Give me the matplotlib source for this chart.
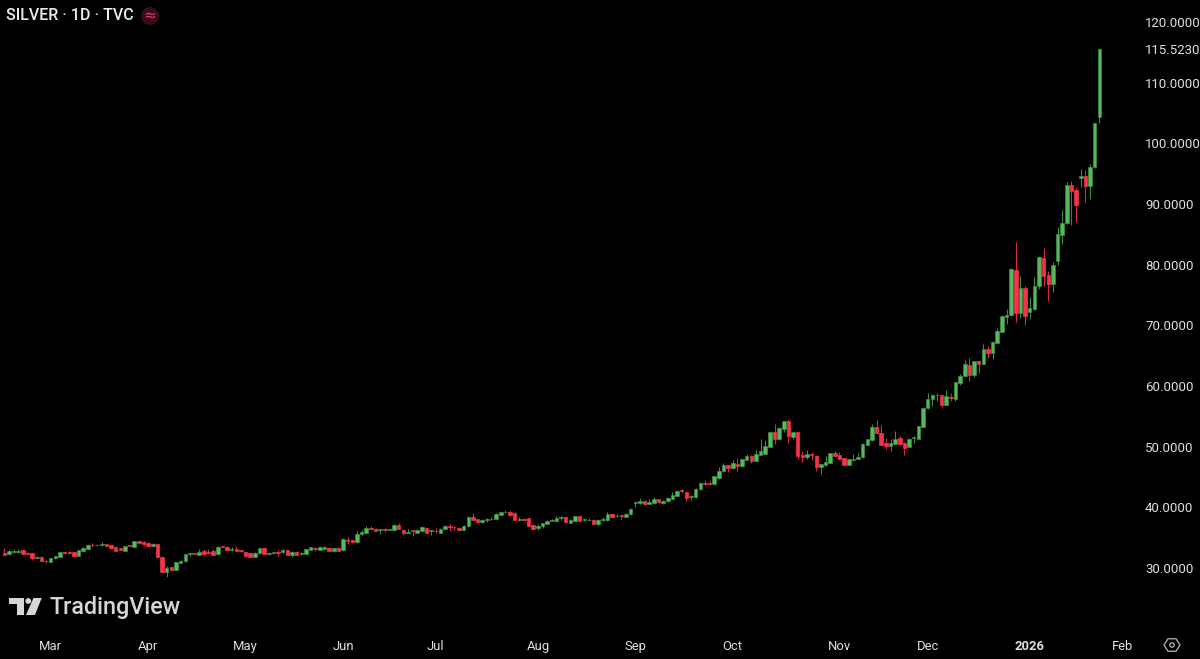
import matplotlib
matplotlib.use("Agg")
from matplotlib import pyplot as plt
from matplotlib.patches import Circle, Polygon, Rectangle
import numpy as np

# daily candles
opens = [32.42,32.26,32.64,32.64,32.92,32.53,32.42,31.7,31.82,31.21,
         31.05,31.6,31.87,32.64,32.64,32.59,31.98,32.86,33.14,33.85,
         33.85,33.8,33.9,33.8,33.41,33.25,32.86,33.74,33.47,34.4,
         34.24,34.13,33.58,33.96,31.87,29.4,30.11,29.67,30.88,31.1,
         32.31,32.42,32.2,32.8,32.7,32.75,32.26,33.63,33.52,32.97,
         33.14,32.97,32.59,32.42,31.87,32.53,33.25,32.37,32.48,32.7,
         32.64,32.97,32.15,32.7,32.31,32.31,32.97,33.36,32.97,33.08,
         33.3,32.86,33.36,32.92,34.62,34.62,34.24,35.56,35.83,36.66,
         36.49,36.22,36.38,36.27,36.22,37.1,36.33,35.83,36.22,35.78,
         36.11,36.55,36.11,36.16,35.83,36.44,36.93,36.82,36.66,36.33,
         36.88,38.36,38.09,37.54,37.92,38.03,38.14,38.8,39.19,39.24,
         39.08,37.92,38.14,38.25,37.1,36.55,36.93,37.26,37.81,37.7,
         38.3,38.36,37.43,37.81,38.53,37.87,37.87,37.98,37.26,37.92,
         37.92,38.86,38.53,38.75,38.42,38.86,40.78,40.67,41.11,40.56,
         40.78,41.39,40.67,41.0,41.44,41.94,42.82,42.54,41.66,41.66,
         42.98,44.03,44.03,43.81,44.9,45.95,46.94,46.5,47.1,46.78,
         47.82,48.54,47.66,48.65,48.82,49.97,52.39,51.23,53.0,54.2,
         51.67,52.39,48.7,48.37,48.82,48.54,46.67,46.94,47.33,48.98,
         48.65,48.1,47.0,47.82,47.99,48.26,50.35,51.07,53.27,52.22,
         50.57,50.19,50.46,51.45,50.68,49.97,51.51,51.23,53.27,56.4,
         57.83,58.5,58.49,56.95,58.27,57.94,60.53,61.68,63.5,61.79,
         64.1,63.66,66.14,65.37,67.13,68.94,71.42,71.69,79.17,72.08,
         76.2,72.24,72.68,76.53,81.15,78.35,76.86,80.66,84.95,86.87,
         93.2,92.37,94.3,94.68,92.92,96.11,104.36]
closes = [32.2,32.86,32.86,32.86,32.37,32.31,31.6,31.82,31.21,31.1,
          31.65,31.98,32.64,32.53,32.53,31.98,32.92,33.3,33.85,33.74,
          33.8,33.96,33.63,33.3,32.8,33.03,33.63,33.63,34.4,34.07,
          33.96,33.58,34.02,31.76,29.4,30.05,29.73,30.99,31.21,32.26,
          32.42,32.37,32.7,32.31,32.53,32.2,33.52,33.52,32.92,33.08,
          32.8,32.75,32.03,31.87,32.53,33.25,32.31,32.53,32.59,32.53,
          32.97,32.15,32.7,32.15,32.42,33.08,33.41,33.08,33.52,33.52,
          32.86,33.25,32.86,34.84,34.46,34.35,35.61,36.0,36.66,36.44,
          36.16,36.38,36.22,36.38,37.1,36.49,35.78,35.94,36.11,36.27,
          36.71,35.83,36.22,36.05,36.49,36.88,36.77,36.71,36.33,36.99,
          38.42,37.98,37.59,37.92,38.03,38.14,38.97,39.19,39.3,38.8,
          37.98,38.03,37.98,36.99,36.49,36.93,37.43,37.81,37.92,38.25,
          38.42,37.54,37.92,38.58,37.81,38.03,37.98,37.26,37.92,38.14,
          38.97,38.47,38.64,38.64,38.97,39.68,40.89,41.05,40.5,40.95,
          41.39,40.84,41.11,41.55,42.1,42.7,42.65,41.6,41.88,43.09,
          44.08,43.81,43.81,45.18,46.06,46.94,46.5,47.33,46.9,47.93,
          48.54,47.71,48.82,49.25,50.08,52.39,51.23,53.1,54.2,51.73,
          52.39,48.54,48.26,48.82,48.6,46.67,47.11,47.49,48.92,48.54,
          47.93,47.0,47.93,47.93,48.37,50.52,51.23,53.27,52.22,50.35,
          50.19,50.63,51.23,50.52,49.8,51.34,51.67,53.38,56.4,57.89,
          58.49,58.55,56.95,58.38,58.1,60.69,61.68,63.66,61.79,64.05,
          63.66,66.19,65.37,67.24,69.05,71.47,71.75,79.34,71.97,76.2,
          71.53,72.79,76.53,81.2,78.07,76.75,79.89,85.06,86.87,93.2,
          92.2,89.9,94.57,92.92,96.11,103.3,115.52]
highs = [33.25,32.97,33.08,33.19,33.0,32.6,32.5,31.9,31.9,31.25,
         31.7,32.0,32.7,32.8,32.75,32.65,33.0,33.4,33.9,34.05,
         33.9,34.24,34.0,33.85,33.5,33.3,33.7,33.85,34.5,34.45,
         34.45,34.25,34.1,34.0,31.9,30.4,30.2,31.05,31.3,32.3,
         32.5,32.45,33.08,33.1,33.08,33.1,33.6,33.7,33.55,33.4,
         33.6,33.05,32.65,32.5,32.6,33.3,33.3,32.6,32.7,33.0,
         33.2,33.0,32.75,32.75,32.6,33.15,33.5,33.5,33.6,33.6,
         33.4,33.35,33.4,34.9,35.1,34.7,36.05,36.3,36.93,36.9,
         36.6,36.45,36.66,36.5,37.2,37.43,36.4,36.38,36.3,36.5,
         36.9,36.65,36.3,36.66,36.6,37.1,37.26,36.9,36.7,37.1,
         38.5,39.13,38.15,38.0,38.3,38.36,39.13,39.3,39.57,39.4,
         39.24,38.42,38.3,38.3,37.2,37.26,37.5,37.85,38.0,38.58,
         38.5,38.4,38.0,38.65,38.6,38.15,38.25,38.05,38.0,38.36,
         39.19,38.95,38.9,38.8,39.1,39.95,41.0,41.55,41.2,41.39,
         41.72,41.45,41.2,41.65,42.54,42.8,43.04,42.6,42.0,43.15,
         44.15,44.52,44.36,45.25,46.72,47.27,47.0,47.82,48.1,48.0,
         48.76,48.6,49.47,51.23,51.07,52.45,53.71,53.2,54.3,54.59,
         52.5,52.66,49.36,49.47,49.1,48.6,47.2,48.48,49.0,49.36,
         49.09,48.15,48.0,48.76,48.9,50.6,51.3,53.7,54.42,53.54,
         51.4,51.29,52.55,51.84,50.75,51.4,51.75,53.45,56.5,58.82,
         58.65,58.87,58.6,59.37,58.82,60.75,62.01,64.32,64.6,64.1,
         64.15,66.96,66.63,67.51,69.49,71.55,72.68,79.45,83.79,78.07,
         76.53,74.66,77.9,81.48,82.75,79.0,80.44,86.3,89.07,93.6,
         93.75,92.8,95.84,95.67,96.6,103.4,115.75]
lows = [32.09,32.2,32.53,32.53,32.3,32.25,31.32,31.65,31.15,30.83,
        31.0,31.55,31.85,32.3,32.35,31.9,31.9,32.8,33.1,33.5,
        33.7,33.7,33.6,33.1,32.75,32.95,32.8,33.55,33.4,34.0,
        33.63,33.5,33.5,31.7,29.3,28.46,29.6,29.6,30.8,31.05,
        32.0,32.3,32.15,32.2,32.3,32.15,32.2,33.4,32.85,32.8,
        32.75,32.7,31.8,31.7,31.8,32.45,32.25,32.2,32.35,31.95,
        32.55,32.1,31.8,32.1,32.2,32.25,32.9,32.85,32.9,33.0,
        32.8,32.7,32.8,32.85,33.9,34.3,34.2,35.5,35.8,36.4,
        36.1,35.61,35.94,36.2,36.1,36.4,35.5,35.75,35.28,35.7,
        36.05,35.75,35.39,35.72,35.75,36.4,36.16,36.27,36.3,36.25,
        36.8,37.9,37.5,37.45,37.6,37.95,38.1,38.7,39.1,38.64,
        37.9,37.8,37.9,36.9,36.2,36.33,36.6,37.2,37.7,37.65,
        37.92,37.5,37.35,37.75,37.75,37.7,37.75,37.2,36.99,37.8,
        37.7,38.4,38.45,38.14,38.35,38.8,40.12,40.6,40.4,40.5,
        40.56,40.8,40.6,40.95,41.4,41.9,42.32,41.11,41.22,41.6,
        42.9,43.64,43.7,43.75,44.74,45.9,45.84,46.4,46.0,46.7,
        47.75,47.38,47.6,48.6,48.75,49.9,50.52,51.15,52.5,50.68,
        51.3,47.99,47.5,48.0,47.82,46.06,45.57,46.9,47.25,48.45,
        47.9,46.95,46.95,47.6,47.9,48.2,50.3,51.0,52.15,50.3,
        49.64,49.36,50.4,50.35,48.65,49.9,50.68,51.2,53.2,56.3,
        56.73,57.55,56.57,56.9,57.55,57.61,60.1,61.6,60.85,61.57,
        62.23,63.6,64.65,64.49,67.1,68.9,70.26,71.6,70.48,71.25,
        70.1,71.25,72.6,75.98,76.42,73.95,75.54,80.0,83.46,86.8,
        86.5,87.0,92.8,90.34,90.89,96.0,103.4]

price_ticks = [30, 40, 50, 60, 70, 80, 90, 100, 110, 120]
last_price = 115.523
month_pos = [10, 31, 52, 73, 93, 115, 136, 157, 180, 199, 221, 241]
month_labels = ["Mar", "Apr", "May", "Jun", "Jul", "Aug", "Sep", "Oct", "Nov", "Dec", "2026", "Feb"]

UP = "#55b85a"
UP_EDGE = "#3c8f41"
DOWN = "#f7334b"
TEXT = "#e0e0e0"

plt.rcParams["font.family"] = ["Roboto", "DejaVu Sans"]

fig = plt.figure(figsize=(12, 6.59), dpi=100, facecolor="black")
ax = fig.add_axes([0, 0, 1, 1], facecolor="black")

o = np.array(opens)
c = np.array(closes)
x = np.arange(len(o))
rising = c >= o
colors = np.where(rising, UP, DOWN)
edges = np.where(rising, UP_EDGE, DOWN)
wicks = np.where(rising, "#3c8f41", "#d42c42")

ax.vlines(x, lows, highs, colors=wicks, linewidth=0.75, zorder=2)
ax.bar(x, np.abs(c - o), bottom=np.minimum(o, c), width=0.76, color=colors,
       edgecolor=edges, linewidth=0.5, zorder=3)

ax.set_xlim(-0.93, 257.7)
ax.set_ylim(15.0, 123.65)
for s in ax.spines.values():
    s.set_visible(False)

ax.yaxis.tick_right()
ax.set_yticks(price_ticks + [last_price])
ax.set_yticklabels(["%.4f" % v for v in price_ticks + [last_price]])
ax.tick_params(axis="y", length=0, pad=-39.6, labelsize=9.5, labelcolor=TEXT)
for lab in ax.get_yticklabels():
    lab.set_ha("left")

ax.set_xticks(month_pos)
ax.set_xticklabels(month_labels)
ax.tick_params(axis="x", length=0, pad=-14, labelsize=9.4, labelcolor=TEXT)
ax.get_xticklabels()[10].set_fontweight("bold")

# header, logo and the small icons, in pixel coords
over = fig.add_axes([0, 0, 1, 1], facecolor="none")
over.set_xlim(0, 1200)
over.set_ylim(659, 0)
over.axis("off")

over.text(6, 16, "SILVER · 1D · TVC", color="#ececec", fontsize=11.5, weight="medium", va="center", ha="left")
over.add_patch(Circle((150, 16), 9, color="#3a0b1e", lw=0))
over.text(150, 15.5, "≈", color="#f23a6a", fontsize=11, va="center", ha="center", family=["DejaVu Sans"])

logo = "#d6d6d6"
over.add_patch(Polygon([(9.3, 598), (24, 598), (24, 615), (16.7, 615), (16.7, 604), (9.3, 604)], color=logo, lw=0))
over.add_patch(Circle((28.3, 601), 2.9, color=logo, lw=0))
over.add_patch(Polygon([(33.5, 598), (41.7, 598), (35, 615), (26, 615)], color=logo, lw=0))
over.text(49, 607.5, "TradingView", color=logo, fontsize=16.8, weight="medium", va="center", ha="left")

ang = np.radians(np.arange(0, 360, 60))
over.add_patch(Polygon(np.c_[1172 + 8 * np.cos(ang), 645 + 7.2 * np.sin(ang)], fill=False, edgecolor="#b8b8b8", lw=0.9))
over.add_patch(Circle((1172, 645), 2.2, fill=False, edgecolor="#b8b8b8", lw=0.9))

fig.savefig("out.png", dpi=100, facecolor="black")
